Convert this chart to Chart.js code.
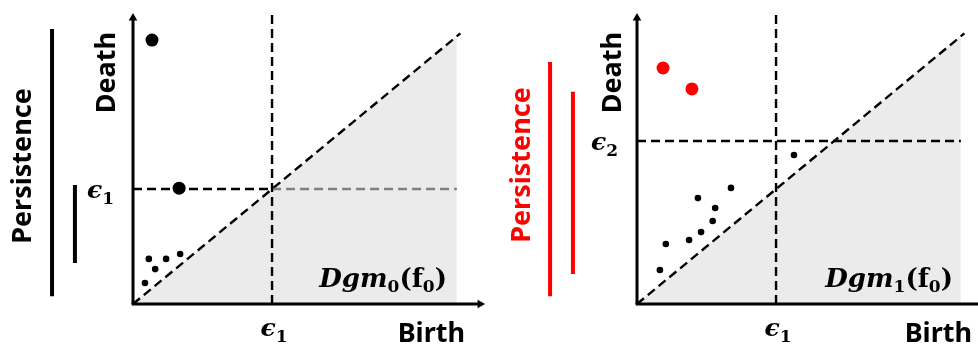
<!DOCTYPE html>
<html>
<head>
<meta charset="utf-8">
<script src="https://cdn.jsdelivr.net/npm/chart.js@4.4.1/dist/chart.umd.min.js"></script>
<style>
html, body { margin: 0; padding: 0; background: #fff; }
#wrap { position: relative; width: 978px; height: 348px; overflow: hidden; }
.panel { position: absolute; top: 0; height: 348px; }
#p0 { left: 0; width: 490px; }
#p1 { left: 490px; width: 488px; }
</style>
</head>
<body>
<div id="wrap">
  <div class="panel" id="p0"><canvas id="chart0" width="490" height="348"></canvas></div>
  <div class="panel" id="p1"><canvas id="chart1" width="488" height="348"></canvas></div>
</div>
<script>
// Umbrales (en unidades de birth/death)
const eps1 = 3.95;
const eps2 = 5.6;
const diagFin = 9.2;

// Dgm0: puntos (birth, death)
const dgm0Ruido = [
    { x: 0.34, y: 0.72 }, { x: 0.45, y: 1.55 }, { x: 0.63, y: 1.20 },
    { x: 0.94, y: 1.55 }, { x: 1.34, y: 1.72 }
];
const dgm0Mayores = [{ x: 0.54, y: 9.07 }, { x: 1.31, y: 3.98 }];

// Dgm1: puntos (birth, death)
const dgm1Ruido = [
    { x: 0.65, y: 1.17 }, { x: 0.82, y: 2.06 }, { x: 1.48, y: 2.20 },
    { x: 1.82, y: 2.47 }, { x: 2.15, y: 2.85 }, { x: 2.22, y: 3.30 },
    { x: 1.73, y: 3.64 }, { x: 2.67, y: 3.99 }, { x: 4.46, y: 5.12 }
];
const dgm1Mayores = [{ x: 0.74, y: 8.11 }, { x: 1.56, y: 7.39 }];

// Barras de persistencia (desde, hasta)
const pers0Barras = [[0.27, 9.45], [1.41, 4.09]];
const pers1Barras = [[0.27, 8.32], [1.03, 7.29]];

// escala comun en pixeles
const PX_X = 35.2, PX_Y = 29.1;

function dibujarMath(ctx, partes, x, y, align) {
    let total = 0;
    partes.forEach(p => { ctx.font = p.font; total += ctx.measureText(p.t).width; });
    let cx = align === 'right' ? x - total : (align === 'center' ? x - total / 2 : x);
    ctx.textAlign = 'left';
    ctx.textBaseline = 'alphabetic';
    partes.forEach(p => {
        ctx.font = p.font;
        ctx.fillText(p.t, cx, y + (p.dy || 0));
        cx += ctx.measureText(p.t).width;
    });
}

const fItal = 'italic 700 26px "DejaVu Serif"';
const fRect = '700 26px "DejaVu Serif"';
const fSub = '700 17px "DejaVu Serif"';
const fEps = 'italic 700 25px "DejaVu Serif"';

const etiquetasPlugin = {
    id: 'etiquetas',
    afterDraw(chart) {
        const o = chart.options.plugins.etiquetas;
        const ctx = chart.ctx;
        const sx = chart.scales.x, sy = chart.scales.y;
        const x0 = sx.getPixelForValue(0);
        ctx.save();
        ctx.fillStyle = o.colorPers;

        // Persistence (vertical)
        ctx.save();
        ctx.font = '700 27px "Noto Sans"';
        ctx.translate(x0 + o.persDx, o.persCy);
        ctx.rotate(-Math.PI / 2);
        ctx.textAlign = 'center';
        ctx.textBaseline = 'middle';
        ctx.fillText('Persistence', 0, 0);
        ctx.restore();

        ctx.fillStyle = '#000';
        // Death
        ctx.save();
        ctx.font = '700 27px "Noto Sans"';
        ctx.translate(x0 + o.deathDx, 32);
        ctx.rotate(-Math.PI / 2);
        ctx.textAlign = 'right';
        ctx.textBaseline = 'middle';
        ctx.fillText('Death', 0, 0);
        ctx.restore();

        // Birth
        ctx.font = '700 27px "Noto Sans"';
        ctx.textAlign = 'right';
        ctx.textBaseline = 'alphabetic';
        ctx.fillText('Birth', x0 + o.birthDx, 342);

        // etiqueta eje x: eps1
        dibujarMath(ctx, [{ t: '\u03F5', font: fEps }, { t: '1', font: fSub, dy: 6 }],
            sx.getPixelForValue(eps1) + 2, 336, 'center');
        // etiqueta eje y
        dibujarMath(ctx, [{ t: '\u03F5', font: fEps }, { t: o.yEtiqueta, font: fSub, dy: 6 }],
            x0 - 19, sy.getPixelForValue(o.yValor) + 9, 'right');

        // Dgm_k(f0)
        dibujarMath(ctx, [
            { t: 'Dgm', font: fItal },
            { t: o.k, font: fSub, dy: 5 },
            { t: '(f', font: fRect },
            { t: '0', font: fSub, dy: 5 },
            { t: ')', font: fRect }
        ], x0 + o.dgmDx, 287, 'right');

        ctx.restore();
    }
};

function linea(data, color, ancho, dash) {
    return {
        data: data,
        showLine: true,
        borderColor: color,
        borderWidth: ancho,
        borderDash: dash || [],
        pointRadius: 0,
        fill: false
    };
}

function crearPanel(id, cfg) {
    const ctx = document.getElementById(id).getContext('2d');
    const ancho = ctx.canvas.width, alto = ctx.canvas.height;
    const datasets = [];
    const guion = [9, 5];

    // puntos grandes y ruido
    datasets.push({ data: cfg.mayores, pointRadius: 6.5, pointBackgroundColor: cfg.colorMayores, pointBorderWidth: 0 });
    datasets.push({ data: cfg.ruido, pointRadius: 3.3, pointBackgroundColor: '#000', pointBorderWidth: 0 });

    // ejes con flecha
    datasets.push({
        data: [{ x: 0, y: 0 }, { x: 0, y: 9.83 }], showLine: true, borderColor: '#000', borderWidth: 3,
        pointStyle: 'triangle', pointRadius: [0, 5], pointRotation: 0,
        pointBackgroundColor: '#000', pointBorderWidth: 0
    });
    datasets.push({
        data: [{ x: -0.04, y: 0 }, { x: cfg.xFlecha, y: 0 }], showLine: true, borderColor: '#000', borderWidth: 3,
        pointStyle: 'triangle', pointRadius: [0, 5], pointRotation: 90,
        pointBackgroundColor: '#000', pointBorderWidth: 0
    });

    // umbrales
    datasets.push(linea([{ x: eps1, y: 0 }, { x: eps1, y: 10.1 }], '#000', 2.4, guion));
    cfg.horizontales.forEach(h => datasets.push(linea(h.data, h.color, 2.4, guion)));
    // diagonal
    datasets.push(linea([{ x: 0, y: 0 }, { x: 9.3, y: 9.3 }], '#000', 2.4, guion));

    // barras de persistencia
    cfg.barras.forEach((b, i) => {
        datasets.push(linea([{ x: cfg.barrasX[i], y: b[0] }, { x: cfg.barrasX[i], y: b[1] }], cfg.colorPers, 4));
    });

    // region bajo la diagonal
    datasets.push({
        data: [{ x: 0, y: 0 }, { x: diagFin, y: diagFin }],
        showLine: true, borderWidth: 0, pointRadius: 0,
        fill: 'origin', backgroundColor: '#ebebeb'
    });

    new Chart(ctx, {
        type: 'scatter',
        data: { datasets: datasets },
        options: {
            responsive: false,
            animation: false,
            events: [],
            devicePixelRatio: 1,
            layout: { padding: 0, autoPadding: false },
            scales: {
                x: { type: 'linear', display: false, min: -cfg.origenX / PX_X, max: (ancho - cfg.origenX) / PX_X },
                y: { type: 'linear', display: false, min: -(alto - 304) / PX_Y, max: 304 / PX_Y }
            },
            plugins: {
                legend: { display: false },
                tooltip: { enabled: false },
                etiquetas: cfg.etiquetas
            }
        },
        plugins: [etiquetasPlugin]
    });
}

crearPanel('chart0', {
    origenX: 133,
    mayores: dgm0Mayores,
    ruido: dgm0Ruido,
    colorMayores: '#000',
    colorPers: '#000',
    xFlecha: 9.86,
    horizontales: [
        { data: [{ x: 0, y: eps1 }, { x: eps1, y: eps1 }], color: '#000' },
        { data: [{ x: eps1, y: eps1 }, { x: diagFin, y: eps1 }], color: '#808080' }
    ],
    barras: pers0Barras,
    barrasX: [-2.3, -1.65],
    etiquetas: { colorPers: '#000', persDx: -110, persCy: 166, deathDx: -26, birthDx: 332, yValor: eps1, yEtiqueta: '1', k: '0', dgmDx: 314 }
});

crearPanel('chart1', {
    origenX: 147,
    mayores: dgm1Mayores,
    ruido: dgm1Ruido,
    colorMayores: '#ff0000',
    colorPers: '#ff0000',
    xFlecha: 9.8,
    horizontales: [
        { data: [{ x: 0, y: eps2 }, { x: diagFin, y: eps2 }], color: '#000' }
    ],
    barras: pers1Barras,
    barrasX: [-2.47, -1.82],
    etiquetas: { colorPers: '#ff0000', persDx: -115, persCy: 165, deathDx: -24, birthDx: 335, yValor: eps2, yEtiqueta: '2', k: '1', dgmDx: 316 }
});
</script>
</body>
</html>
